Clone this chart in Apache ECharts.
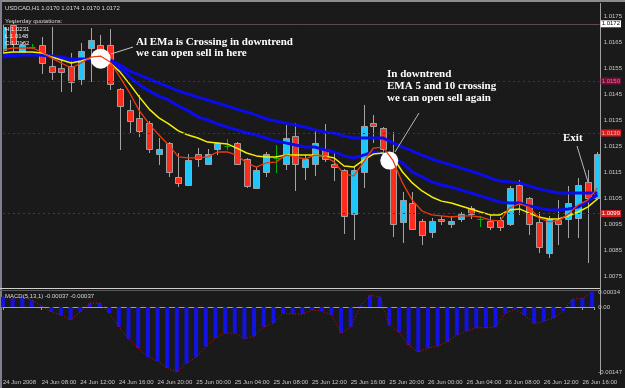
<!DOCTYPE html>
<html>
<head>
<meta charset="utf-8">
<script src="https://cdn.jsdelivr.net/npm/echarts@6/dist/echarts.min.js"></script>
<style>
html,body{margin:0;padding:0;background:#1a1a1a;}
#chart{width:625px;height:388px;}
</style>
</head>
<body>
<div id="chart"></div>
<script>
// ---- data (USDCAD H1, 24 Jun 04:00 .. 26 Jun 17:00) ----
var timeLabels = ['24 Jun 2008','24 Jun 08:00','24 Jun 12:00','24 Jun 16:00','24 Jun 20:00',
  '25 Jun 00:00','25 Jun 04:00','25 Jun 08:00','25 Jun 12:00','25 Jun 16:00','25 Jun 20:00',
  '26 Jun 00:00','26 Jun 04:00','26 Jun 08:00','26 Jun 12:00','26 Jun 16:00'];

var openP = [1.01619,1.01715,1.01612,1.01631,1.01638,1.01558,1.01550,1.01558,1.01508,1.01627,
1.01638,1.01638,1.01469,1.01388,1.01358,1.01338,1.01219,1.01262,1.01131,1.01100,
1.01219,1.01181,1.01238,1.01250,1.01262,1.01200,1.01088,1.01150,1.01204,1.01181,
1.01288,1.01169,1.01181,1.01238,1.01181,1.01158,1.00988,1.01150,1.01338,1.01319,
1.01204,1.00958,1.01031,1.00962,1.00919,1.00969,1.00950,1.00969,1.01012,1.00969,
1.00962,1.00965,1.00950,1.01100,1.01050,1.00958,1.00838,1.00965,1.00969,1.00973,
1.01112,1.01050];
var closeP = [1.01708,1.01642,1.01638,1.01631,1.01569,1.01535,1.01535,1.01496,1.01615,1.01658,
1.01612,1.01488,1.01404,1.01346,1.01308,1.01238,1.01238,1.01150,1.01108,1.01196,
1.01200,1.01219,1.01262,1.01250,1.01181,1.01096,1.01158,1.01219,1.01204,1.01281,
1.01181,1.01200,1.01262,1.01200,1.01169,1.00981,1.01158,1.01327,1.01327,1.01238,
1.00950,1.01042,1.00931,1.00908,1.00962,1.00962,1.00962,1.00988,1.00988,1.00969,
1.00938,1.00938,1.01088,1.01027,1.00950,1.00862,1.00969,1.00950,1.01031,1.01100,
1.01050,1.01219];
var lowP = [1.01612,1.01612,1.01604,1.01623,1.01527,1.01504,1.01458,1.01458,1.01485,1.01496,
1.01550,1.01465,1.01235,1.01300,1.01285,1.01223,1.01177,1.01131,1.01092,1.01096,
1.01169,1.01177,1.01215,1.01235,1.01177,1.01088,1.01085,1.01131,1.01146,1.01158,
1.01077,1.01119,1.01135,1.01188,1.01115,1.00912,1.00888,1.01088,1.01262,1.01227,
1.00900,1.00877,1.00927,1.00869,1.00896,1.00946,1.00935,1.00958,1.00969,1.00938,
1.00927,1.00923,1.00942,1.00985,1.00908,1.00838,1.00819,1.00869,1.00896,1.00896,
1.00800,1.01042];
var highP = [1.01715,1.01727,1.01650,1.01642,1.01669,1.01708,1.01581,1.01608,1.01646,1.01704,
1.01677,1.01700,1.01473,1.01427,1.01446,1.01346,1.01281,1.01265,1.01223,1.01219,
1.01242,1.01238,1.01265,1.01277,1.01265,1.01204,1.01169,1.01227,1.01254,1.01331,
1.01338,1.01215,1.01308,1.01335,1.01223,1.01162,1.01169,1.01408,1.01369,1.01323,
1.01304,1.01073,1.01073,1.00969,1.00973,1.00981,1.00981,1.00996,1.01019,1.00981,
1.00985,1.00977,1.01096,1.01119,1.01054,1.00996,1.00981,1.01042,1.01096,1.01127,
1.01158,1.01227];

var ema5 = [1.01619,1.01627,1.01627,1.01627,1.01612,1.01588,1.01569,1.01550,1.01569,1.01592,
1.01596,1.01573,1.01515,1.01454,1.01385,1.01335,1.01292,1.01254,1.01208,1.01204,
1.01204,1.01208,1.01227,1.01227,1.01215,1.01185,1.01169,1.01185,1.01188,1.01215,
1.01208,1.01200,1.01215,1.01212,1.01188,1.01142,1.01135,1.01188,1.01242,1.01246,
1.01196,1.01108,1.01042,1.01000,1.00985,1.00981,1.00977,1.00981,1.00981,1.00977,
1.00965,1.00962,1.01012,1.01027,1.01015,1.00973,1.00958,1.00962,1.00988,1.01023,
1.01042,1.01088];
var ema10 = [1.01608,1.01612,1.01612,1.01612,1.01608,1.01592,1.01581,1.01569,1.01577,1.01588,
1.01588,1.01569,1.01535,1.01488,1.01438,1.01392,1.01358,1.01335,1.01308,1.01292,
1.01281,1.01265,1.01262,1.01258,1.01242,1.01223,1.01212,1.01208,1.01208,1.01215,
1.01215,1.01215,1.01215,1.01212,1.01204,1.01173,1.01169,1.01196,1.01219,1.01223,
1.01208,1.01150,1.01108,1.01077,1.01054,1.01038,1.01031,1.01019,1.01008,1.00996,
1.00985,1.00985,1.01004,1.01008,1.00992,1.00977,1.00969,1.00969,1.00981,1.00996,
1.01015,1.01046];
var emaMid = [1.01592,1.01596,1.01600,1.01600,1.01600,1.01592,1.01588,1.01581,1.01581,1.01585,
1.01585,1.01577,1.01550,1.01515,1.01485,1.01462,1.01442,1.01427,1.01404,1.01385,
1.01362,1.01350,1.01335,1.01323,1.01312,1.01300,1.01292,1.01281,1.01269,1.01262,
1.01254,1.01246,1.01246,1.01235,1.01227,1.01212,1.01204,1.01215,1.01227,1.01223,
1.01204,1.01185,1.01150,1.01131,1.01112,1.01100,1.01092,1.01081,1.01069,1.01058,
1.01046,1.01035,1.01031,1.01031,1.01019,1.01012,1.01004,1.01004,1.01008,1.01015,
1.01038,1.01062];
var emaSlow = [1.01604,1.01604,1.01604,1.01604,1.01600,1.01596,1.01592,1.01585,1.01585,1.01585,
1.01585,1.01581,1.01562,1.01538,1.01523,1.01508,1.01492,1.01477,1.01462,1.01450,
1.01438,1.01427,1.01415,1.01404,1.01392,1.01381,1.01369,1.01354,1.01346,1.01338,
1.01331,1.01323,1.01312,1.01304,1.01300,1.01288,1.01281,1.01281,1.01281,1.01281,
1.01262,1.01246,1.01231,1.01215,1.01200,1.01188,1.01177,1.01165,1.01154,1.01142,
1.01127,1.01115,1.01112,1.01108,1.01096,1.01085,1.01077,1.01069,1.01069,1.01069,
1.01069,1.01069];

var macd = [0.00023,0.00020,0.00023,0.00016,0.00002,-0.00011,-0.00018,-0.00029,-0.00011,0.00009,
0.00009,-0.00014,-0.00045,-0.00072,-0.00093,-0.00113,-0.00122,-0.00138,-0.00147,-0.00127,
-0.00113,-0.00090,-0.00070,-0.00059,-0.00059,-0.00072,-0.00066,-0.00045,-0.00036,-0.00014,
-0.00016,-0.00016,-0.00007,-0.00009,-0.00018,-0.00059,-0.00045,0.00002,0.00027,0.00023,
-0.00041,-0.00057,-0.00086,-0.00102,-0.00093,-0.00088,-0.00079,-0.00063,-0.00054,-0.00047,
-0.00047,-0.00045,-0.00014,-0.00005,-0.00018,-0.00038,-0.00032,-0.00025,-0.00009,0.00018,
0.00020,0.00034];
var macdSignal = macd.slice(); // MACD(5,13,1): signal period 1 follows the histogram tips

var levelValues = [1.0172, 1.0150, 1.0130, 1.0099];
var levelLabels = ['1.0172', '1.0150', '1.0130', '1.0099'];
var crossPoints = [[10.02, 1.01586], [39.64, 1.01194]];

// ---- build ----
var SMALL = '"Liberation Sans",Arial,sans-serif';
var FS = 6;
function pairs(arr){ return arr.map(function(v,i){ return [i, v]; }); }
var candleData = openP.map(function(o,i){ return [i, o, closeP[i], lowP[i], highP[i]]; });

function renderCandle(params, api){
  var i = api.value(0), o = api.value(1), c = api.value(2), l = api.value(3), h = api.value(4);
  var pO = api.coord([i, o]), pC = api.coord([i, c]);
  var pL = api.coord([i, l]), pH = api.coord([i, h]);
  var x = Math.round(pO[0]) + 0.5;
  var ch = [];
  if (o === c) {
    ch.push({type:'line', shape:{x1:x, y1:Math.round(pH[1]), x2:x, y2:Math.round(pL[1])},
             style:{stroke:'#00b000', lineWidth:1}});
    var yy = Math.round(pO[1]) + 0.5;
    ch.push({type:'line', shape:{x1:x-3, y1:yy, x2:x+3, y2:yy}, style:{stroke:'#00b000', lineWidth:1}});
  } else {
    ch.push({type:'line', shape:{x1:x, y1:Math.round(pH[1]), x2:x, y2:Math.round(pL[1])},
             style:{stroke:'#a4a4a4', lineWidth:1}});
    var top = Math.round(Math.min(pO[1], pC[1])), bot = Math.round(Math.max(pO[1], pC[1]));
    ch.push({type:'rect', shape:{x:x-3, y:top+0.5, width:6, height:Math.max(bot-top,1)},
             style:{fill: c > o ? '#1fc6fb' : '#ff2b1c', stroke:'#a0a0a0', lineWidth:1}});
  }
  return {type:'group', children:ch};
}

var levelStyles = [
  {color:'#5e4a4a', type:'solid', bg:'#ffffff', fg:'#000000'},
  {color:'#7a1444', type:[2,3], bg:'#6e0f3a', fg:'#ff6a8a'},
  {color:'#7a1444', type:[2,3], bg:'#d42020', fg:'#ffb0b0'},
  {color:'#8a1840', type:[2,3], bg:'#d42020', fg:'#ffffff'}
];

var chart = echarts.init(document.getElementById('chart'), null, {renderer:'canvas'});
var option = {
  backgroundColor:'#1a1a1a',
  animation:false,
  grid:[
    {left:3, right:25, top:3, height:286},
    {left:3, right:25, top:292, height:80}
  ],
  xAxis:[
    {type:'value', gridIndex:0, min:0, max:61.23, show:false},
    {type:'value', gridIndex:1, min:0, max:61.23, interval:4, offset:3,
     axisLine:{show:true, lineStyle:{color:'#a0a0a0'}},
     axisTick:{show:true, length:3, lineStyle:{color:'#a0a0a0'}},
     splitLine:{show:false},
     axisLabel:{align:'left', margin:4, color:'#c8c8c8', fontSize:FS, fontFamily:SMALL,
       formatter:function(v){ var k = Math.round(v); if (Math.abs(v-k)>1e-6 || k%4!==0) return ''; return timeLabels[k/4] || ''; }}}
  ],
  yAxis:[
    {type:'value', gridIndex:0, position:'right', min:1.0070, max:1.0180, interval:0.0005,
     axisLine:{show:false}, axisTick:{show:false}, splitLine:{show:false},
     axisLabel:{margin:4, color:'#c8c8c8', fontSize:FS, fontFamily:SMALL,
       formatter:function(v){ var n = Math.round(v*10000); return (n % 10 === 5) ? (n/10000).toFixed(4) : ''; }}},
    {type:'value', gridIndex:1, position:'right', min:-0.00147, max:0.00034, interval:0.00147,
     axisLine:{show:false}, axisTick:{show:false}, splitLine:{show:false},
     axisLabel:{margin:4, color:'#c8c8c8', fontSize:FS, fontFamily:SMALL,
       formatter:function(v){ if (Math.abs(v) < 1e-9) return '0.00'; return v.toFixed(5); }}}
  ],
  series:[
    {type:'custom', name:'candles', xAxisIndex:0, yAxisIndex:0, data:candleData,
     encode:{x:0, y:[1,2,3,4]}, renderItem:renderCandle, clip:true, z:2},
    {type:'line', data:pairs(emaSlow), xAxisIndex:0, yAxisIndex:0, symbol:'none', z:3,
     lineStyle:{color:'#0c0ce8', width:3},
     markLine:{silent:true, symbol:['none','none'], animation:false, precision:4,
       data: levelValues.map(function(v,k){
         var st = levelStyles[k];
         return {yAxis:v, lineStyle:{color:st.color, type:st.type, width:1},
           label:{show:true, position:'end', distance:1, formatter:levelLabels[k],
             backgroundColor:st.bg, color:st.fg, fontSize:FS, fontFamily:SMALL, padding:[1,1,0,1]}};
       })}},
    {type:'line', data:pairs(emaMid), xAxisIndex:0, yAxisIndex:0, symbol:'none', z:3,
     lineStyle:{color:'#0c0ce8', width:3}},
    {type:'line', data:pairs(ema10), xAxisIndex:0, yAxisIndex:0, symbol:'none', z:4,
     lineStyle:{color:'#f4f000', width:1.5}},
    {type:'line', data:pairs(ema5), xAxisIndex:0, yAxisIndex:0, symbol:'none', z:5,
     lineStyle:{color:'#ee3a0c', width:1.3},
     markPoint:{symbol:'circle', symbolSize:20, silent:true, label:{show:false},
       itemStyle:{color:'#ffffff'},
       data: crossPoints.map(function(p,k){ return {coord:p, symbolSize: k===0 ? 20 : 18}; })}},
    {type:'bar', data:pairs(macd), xAxisIndex:1, yAxisIndex:1, barWidth:4,
     itemStyle:{color:'#1212e6'}},
    {type:'line', data:pairs(macdSignal), xAxisIndex:1, yAxisIndex:1, symbol:'none', z:5,
     lineStyle:{color:'#d01010', width:1, type:[1,2]}}
  ],
  graphic:[
    {type:'rect', silent:true, shape:{x:0,y:0,width:625,height:2}, style:{fill:'#8c8c8c'}},
    {type:'rect', silent:true, shape:{x:0,y:0,width:2,height:388}, style:{fill:'#80808c'}},
    {type:'line', silent:true, shape:{x1:600.5,y1:3,x2:600.5,y2:375}, style:{stroke:'#a0a0a0', lineWidth:1}},
    {type:'line', silent:true, shape:{x1:0,y1:288.5,x2:600,y2:288.5}, style:{stroke:'#d0d0d0', lineWidth:1}},
    {type:'line', silent:true, shape:{x1:0,y1:290.5,x2:600,y2:290.5}, style:{stroke:'#5a5a5a', lineWidth:1}},
    {type:'text', silent:true, x:5, y:8, style:{text:'USDCAD,H1 1.0170 1.0174 1.0170 1.0172', fill:'#d8d8d8', fontSize:FS, fontFamily:SMALL, verticalAlign:'middle'}},
    {type:'text', silent:true, x:5, y:21, z:50, style:{text:'Yesterday quotations:', fill:'#d8d8d8', fontSize:FS, fontFamily:SMALL, verticalAlign:'middle'}},
    {type:'text', silent:true, x:5, y:29, z:50, style:{text:'H:1.0231', fill:'#e8e8e8', fontSize:FS, fontFamily:SMALL, verticalAlign:'middle'}},
    {type:'text', silent:true, x:5, y:36, z:50, style:{text:'L:1.0148', fill:'#e8e8e8', fontSize:FS, fontFamily:SMALL, verticalAlign:'middle'}},
    {type:'text', silent:true, x:5, y:43, z:50, style:{text:'C:1.0162', fill:'#e8e8e8', fontSize:FS, fontFamily:SMALL, verticalAlign:'middle'}},
    {type:'text', silent:true, x:5, y:296, z:50, style:{text:'MACD(5,13,1) -0.00037 -0.00037', fill:'#d8d8d8', fontSize:FS, fontFamily:SMALL, verticalAlign:'middle'}},
    {type:'line', silent:true, z:50, shape:{x1:111,y1:54,x2:133,y2:47}, style:{stroke:'#c8c8c8', lineWidth:1}},
    {type:'line', silent:true, z:50, shape:{x1:395,y1:152,x2:419,y2:113}, style:{stroke:'#b8b8b8', lineWidth:1}},
    {type:'line', silent:true, z:50, shape:{x1:577,y1:146,x2:588,y2:182}, style:{stroke:'#b8b8b8', lineWidth:1}},
    {type:'text', silent:true, x:136, y:42, z:50, style:{text:'Al EMa is Crossing in downtrend', fill:'#ffffff', font:'bold 11px "Liberation Serif"', verticalAlign:'middle'}},
    {type:'text', silent:true, x:136, y:53, z:50, style:{text:'we can open sell in here', fill:'#ffffff', font:'bold 11px "Liberation Serif"', verticalAlign:'middle'}},
    {type:'text', silent:true, x:387, y:74, z:50, style:{text:'In downtrend', fill:'#ffffff', font:'bold 11px "Liberation Serif"', verticalAlign:'middle'}},
    {type:'text', silent:true, x:387, y:86.5, z:50, style:{text:'EMA 5 and 10 crossing', fill:'#ffffff', font:'bold 11px "Liberation Serif"', verticalAlign:'middle'}},
    {type:'text', silent:true, x:387, y:98.5, z:50, style:{text:'we can open sell again', fill:'#ffffff', font:'bold 11px "Liberation Serif"', verticalAlign:'middle'}},
    {type:'text', silent:true, x:563, y:138, z:50, style:{text:'Exit', fill:'#ffffff', font:'bold 11px "Liberation Serif"', verticalAlign:'middle'}}
  ]
};
chart.setOption(option);
</script>
</body>
</html>
